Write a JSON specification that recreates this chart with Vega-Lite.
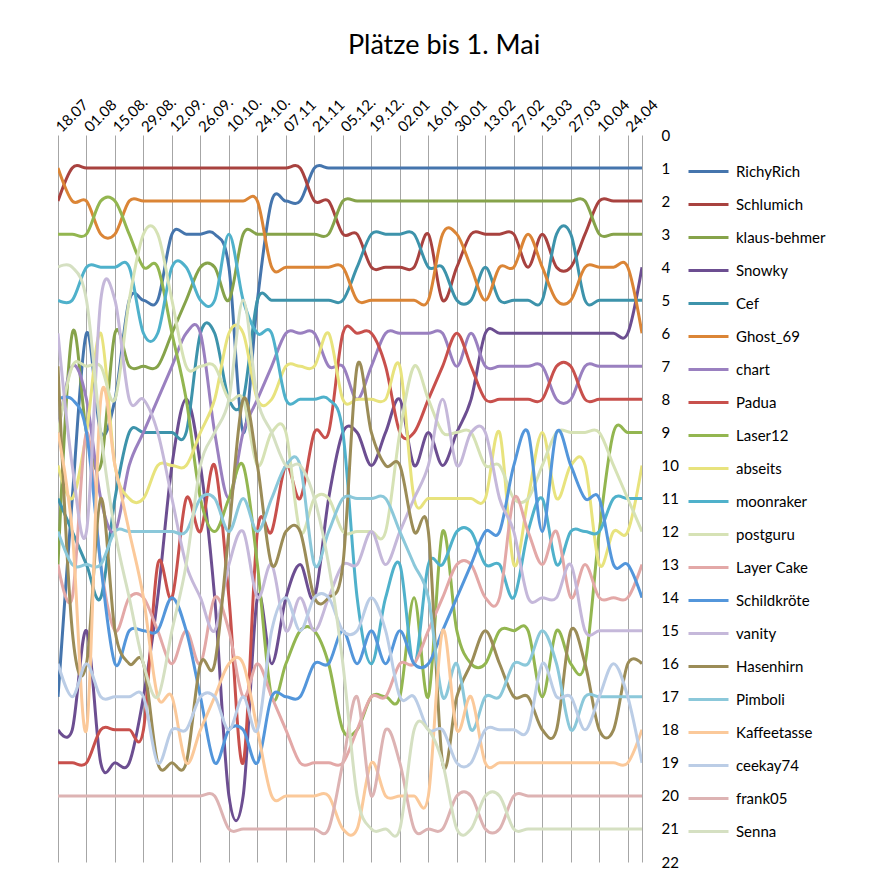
{
"$schema":"https://vega.github.io/schema/vega-lite/v6.json",
"width":584,"height":727,
"autosize":{"type":"none"},
"padding":{"left":58,"top":135,"right":244,"bottom":28},
"background":"white",
"title":{"text":"Plätze bis 1. Mai","font":"Lato","fontSize":27,"fontWeight":"normal","color":"#000000","anchor":"middle","dx":94,"offset":34},
"config":{"view":{"stroke":null}},
"data":{"values":[
{"n":"RichyRich","w":0,"r":17},{"n":"RichyRich","w":1,"r":11},{"n":"RichyRich","w":2,"r":6},{"n":"RichyRich","w":3,"r":9},{"n":"RichyRich","w":4,"r":8},{"n":"RichyRich","w":5,"r":5},{"n":"RichyRich","w":6,"r":5},{"n":"RichyRich","w":7,"r":5},{"n":"RichyRich","w":8,"r":3},{"n":"RichyRich","w":9,"r":3},{"n":"RichyRich","w":10,"r":3},{"n":"RichyRich","w":11,"r":3},{"n":"RichyRich","w":12,"r":4},{"n":"RichyRich","w":13,"r":9},{"n":"RichyRich","w":14,"r":5},{"n":"RichyRich","w":15,"r":2},{"n":"RichyRich","w":16,"r":2},{"n":"RichyRich","w":17,"r":2},{"n":"RichyRich","w":18,"r":1},{"n":"RichyRich","w":19,"r":1},{"n":"RichyRich","w":20,"r":1},{"n":"RichyRich","w":21,"r":1},{"n":"RichyRich","w":22,"r":1},{"n":"RichyRich","w":23,"r":1},{"n":"RichyRich","w":24,"r":1},{"n":"RichyRich","w":25,"r":1},{"n":"RichyRich","w":26,"r":1},{"n":"RichyRich","w":27,"r":1},{"n":"RichyRich","w":28,"r":1},{"n":"RichyRich","w":29,"r":1},{"n":"RichyRich","w":30,"r":1},{"n":"RichyRich","w":31,"r":1},{"n":"RichyRich","w":32,"r":1},{"n":"RichyRich","w":33,"r":1},{"n":"RichyRich","w":34,"r":1},{"n":"RichyRich","w":35,"r":1},{"n":"RichyRich","w":36,"r":1},{"n":"RichyRich","w":37,"r":1},{"n":"RichyRich","w":38,"r":1},{"n":"RichyRich","w":39,"r":1},{"n":"RichyRich","w":40,"r":1},{"n":"RichyRich","w":41,"r":1},
{"n":"Schlumich","w":0,"r":2},{"n":"Schlumich","w":1,"r":1},{"n":"Schlumich","w":2,"r":1},{"n":"Schlumich","w":3,"r":1},{"n":"Schlumich","w":4,"r":1},{"n":"Schlumich","w":5,"r":1},{"n":"Schlumich","w":6,"r":1},{"n":"Schlumich","w":7,"r":1},{"n":"Schlumich","w":8,"r":1},{"n":"Schlumich","w":9,"r":1},{"n":"Schlumich","w":10,"r":1},{"n":"Schlumich","w":11,"r":1},{"n":"Schlumich","w":12,"r":1},{"n":"Schlumich","w":13,"r":1},{"n":"Schlumich","w":14,"r":1},{"n":"Schlumich","w":15,"r":1},{"n":"Schlumich","w":16,"r":1},{"n":"Schlumich","w":17,"r":1},{"n":"Schlumich","w":18,"r":2},{"n":"Schlumich","w":19,"r":2},{"n":"Schlumich","w":20,"r":3},{"n":"Schlumich","w":21,"r":3},{"n":"Schlumich","w":22,"r":4},{"n":"Schlumich","w":23,"r":4},{"n":"Schlumich","w":24,"r":4},{"n":"Schlumich","w":25,"r":4},{"n":"Schlumich","w":26,"r":3},{"n":"Schlumich","w":27,"r":5},{"n":"Schlumich","w":28,"r":4},{"n":"Schlumich","w":29,"r":3},{"n":"Schlumich","w":30,"r":3},{"n":"Schlumich","w":31,"r":3},{"n":"Schlumich","w":32,"r":3},{"n":"Schlumich","w":33,"r":4},{"n":"Schlumich","w":34,"r":3},{"n":"Schlumich","w":35,"r":4},{"n":"Schlumich","w":36,"r":4},{"n":"Schlumich","w":37,"r":3},{"n":"Schlumich","w":38,"r":2},{"n":"Schlumich","w":39,"r":2},{"n":"Schlumich","w":40,"r":2},{"n":"Schlumich","w":41,"r":2},
{"n":"klaus-behmer","w":0,"r":13},{"n":"klaus-behmer","w":1,"r":6},{"n":"klaus-behmer","w":2,"r":9},{"n":"klaus-behmer","w":3,"r":10},{"n":"klaus-behmer","w":4,"r":6},{"n":"klaus-behmer","w":5,"r":7},{"n":"klaus-behmer","w":6,"r":7},{"n":"klaus-behmer","w":7,"r":7},{"n":"klaus-behmer","w":8,"r":6},{"n":"klaus-behmer","w":9,"r":5},{"n":"klaus-behmer","w":10,"r":4},{"n":"klaus-behmer","w":11,"r":4},{"n":"klaus-behmer","w":12,"r":5},{"n":"klaus-behmer","w":13,"r":3},{"n":"klaus-behmer","w":14,"r":3},{"n":"klaus-behmer","w":15,"r":3},{"n":"klaus-behmer","w":16,"r":3},{"n":"klaus-behmer","w":17,"r":3},{"n":"klaus-behmer","w":18,"r":3},{"n":"klaus-behmer","w":19,"r":3},{"n":"klaus-behmer","w":20,"r":2},{"n":"klaus-behmer","w":21,"r":2},{"n":"klaus-behmer","w":22,"r":2},{"n":"klaus-behmer","w":23,"r":2},{"n":"klaus-behmer","w":24,"r":2},{"n":"klaus-behmer","w":25,"r":2},{"n":"klaus-behmer","w":26,"r":2},{"n":"klaus-behmer","w":27,"r":2},{"n":"klaus-behmer","w":28,"r":2},{"n":"klaus-behmer","w":29,"r":2},{"n":"klaus-behmer","w":30,"r":2},{"n":"klaus-behmer","w":31,"r":2},{"n":"klaus-behmer","w":32,"r":2},{"n":"klaus-behmer","w":33,"r":2},{"n":"klaus-behmer","w":34,"r":2},{"n":"klaus-behmer","w":35,"r":2},{"n":"klaus-behmer","w":36,"r":2},{"n":"klaus-behmer","w":37,"r":2},{"n":"klaus-behmer","w":38,"r":3},{"n":"klaus-behmer","w":39,"r":3},{"n":"klaus-behmer","w":40,"r":3},{"n":"klaus-behmer","w":41,"r":3},
{"n":"Snowky","w":0,"r":18},{"n":"Snowky","w":1,"r":18},{"n":"Snowky","w":2,"r":15},{"n":"Snowky","w":3,"r":19},{"n":"Snowky","w":4,"r":19},{"n":"Snowky","w":5,"r":19},{"n":"Snowky","w":6,"r":17},{"n":"Snowky","w":7,"r":14},{"n":"Snowky","w":8,"r":10},{"n":"Snowky","w":9,"r":8},{"n":"Snowky","w":10,"r":10},{"n":"Snowky","w":11,"r":14},{"n":"Snowky","w":12,"r":20},{"n":"Snowky","w":13,"r":20},{"n":"Snowky","w":14,"r":14},{"n":"Snowky","w":15,"r":16},{"n":"Snowky","w":16,"r":14},{"n":"Snowky","w":17,"r":13},{"n":"Snowky","w":18,"r":14},{"n":"Snowky","w":19,"r":11},{"n":"Snowky","w":20,"r":9},{"n":"Snowky","w":21,"r":9},{"n":"Snowky","w":22,"r":10},{"n":"Snowky","w":23,"r":9},{"n":"Snowky","w":24,"r":8},{"n":"Snowky","w":25,"r":10},{"n":"Snowky","w":26,"r":9},{"n":"Snowky","w":27,"r":10},{"n":"Snowky","w":28,"r":9},{"n":"Snowky","w":29,"r":8},{"n":"Snowky","w":30,"r":6},{"n":"Snowky","w":31,"r":6},{"n":"Snowky","w":32,"r":6},{"n":"Snowky","w":33,"r":6},{"n":"Snowky","w":34,"r":6},{"n":"Snowky","w":35,"r":6},{"n":"Snowky","w":36,"r":6},{"n":"Snowky","w":37,"r":6},{"n":"Snowky","w":38,"r":6},{"n":"Snowky","w":39,"r":6},{"n":"Snowky","w":40,"r":6},{"n":"Snowky","w":41,"r":4},
{"n":"Cef","w":0,"r":11},{"n":"Cef","w":1,"r":12},{"n":"Cef","w":2,"r":13},{"n":"Cef","w":3,"r":14},{"n":"Cef","w":4,"r":11},{"n":"Cef","w":5,"r":9},{"n":"Cef","w":6,"r":9},{"n":"Cef","w":7,"r":9},{"n":"Cef","w":8,"r":9},{"n":"Cef","w":9,"r":9},{"n":"Cef","w":10,"r":6},{"n":"Cef","w":11,"r":6},{"n":"Cef","w":12,"r":8},{"n":"Cef","w":13,"r":8},{"n":"Cef","w":14,"r":5},{"n":"Cef","w":15,"r":5},{"n":"Cef","w":16,"r":5},{"n":"Cef","w":17,"r":5},{"n":"Cef","w":18,"r":5},{"n":"Cef","w":19,"r":5},{"n":"Cef","w":20,"r":5},{"n":"Cef","w":21,"r":4},{"n":"Cef","w":22,"r":3},{"n":"Cef","w":23,"r":3},{"n":"Cef","w":24,"r":3},{"n":"Cef","w":25,"r":3},{"n":"Cef","w":26,"r":4},{"n":"Cef","w":27,"r":4},{"n":"Cef","w":28,"r":5},{"n":"Cef","w":29,"r":5},{"n":"Cef","w":30,"r":4},{"n":"Cef","w":31,"r":5},{"n":"Cef","w":32,"r":5},{"n":"Cef","w":33,"r":5},{"n":"Cef","w":34,"r":5},{"n":"Cef","w":35,"r":3},{"n":"Cef","w":36,"r":3},{"n":"Cef","w":37,"r":5},{"n":"Cef","w":38,"r":5},{"n":"Cef","w":39,"r":5},{"n":"Cef","w":40,"r":5},{"n":"Cef","w":41,"r":5},
{"n":"Ghost_69","w":0,"r":1},{"n":"Ghost_69","w":1,"r":2},{"n":"Ghost_69","w":2,"r":2},{"n":"Ghost_69","w":3,"r":3},{"n":"Ghost_69","w":4,"r":3},{"n":"Ghost_69","w":5,"r":2},{"n":"Ghost_69","w":6,"r":2},{"n":"Ghost_69","w":7,"r":2},{"n":"Ghost_69","w":8,"r":2},{"n":"Ghost_69","w":9,"r":2},{"n":"Ghost_69","w":10,"r":2},{"n":"Ghost_69","w":11,"r":2},{"n":"Ghost_69","w":12,"r":2},{"n":"Ghost_69","w":13,"r":2},{"n":"Ghost_69","w":14,"r":2},{"n":"Ghost_69","w":15,"r":4},{"n":"Ghost_69","w":16,"r":4},{"n":"Ghost_69","w":17,"r":4},{"n":"Ghost_69","w":18,"r":4},{"n":"Ghost_69","w":19,"r":4},{"n":"Ghost_69","w":20,"r":4},{"n":"Ghost_69","w":21,"r":5},{"n":"Ghost_69","w":22,"r":5},{"n":"Ghost_69","w":23,"r":5},{"n":"Ghost_69","w":24,"r":5},{"n":"Ghost_69","w":25,"r":5},{"n":"Ghost_69","w":26,"r":5},{"n":"Ghost_69","w":27,"r":3},{"n":"Ghost_69","w":28,"r":3},{"n":"Ghost_69","w":29,"r":4},{"n":"Ghost_69","w":30,"r":5},{"n":"Ghost_69","w":31,"r":4},{"n":"Ghost_69","w":32,"r":4},{"n":"Ghost_69","w":33,"r":3},{"n":"Ghost_69","w":34,"r":4},{"n":"Ghost_69","w":35,"r":5},{"n":"Ghost_69","w":36,"r":5},{"n":"Ghost_69","w":37,"r":4},{"n":"Ghost_69","w":38,"r":4},{"n":"Ghost_69","w":39,"r":4},{"n":"Ghost_69","w":40,"r":4},{"n":"Ghost_69","w":41,"r":6},
{"n":"chart","w":0,"r":9},{"n":"chart","w":1,"r":7},{"n":"chart","w":2,"r":8},{"n":"chart","w":3,"r":11},{"n":"chart","w":4,"r":12},{"n":"chart","w":5,"r":10},{"n":"chart","w":6,"r":9},{"n":"chart","w":7,"r":8},{"n":"chart","w":8,"r":7},{"n":"chart","w":9,"r":6},{"n":"chart","w":10,"r":6},{"n":"chart","w":11,"r":9},{"n":"chart","w":12,"r":11},{"n":"chart","w":13,"r":9},{"n":"chart","w":14,"r":8},{"n":"chart","w":15,"r":7},{"n":"chart","w":16,"r":6},{"n":"chart","w":17,"r":6},{"n":"chart","w":18,"r":6},{"n":"chart","w":19,"r":7},{"n":"chart","w":20,"r":7},{"n":"chart","w":21,"r":8},{"n":"chart","w":22,"r":7},{"n":"chart","w":23,"r":6},{"n":"chart","w":24,"r":6},{"n":"chart","w":25,"r":6},{"n":"chart","w":26,"r":6},{"n":"chart","w":27,"r":6},{"n":"chart","w":28,"r":7},{"n":"chart","w":29,"r":6},{"n":"chart","w":30,"r":7},{"n":"chart","w":31,"r":7},{"n":"chart","w":32,"r":7},{"n":"chart","w":33,"r":7},{"n":"chart","w":34,"r":7},{"n":"chart","w":35,"r":8},{"n":"chart","w":36,"r":8},{"n":"chart","w":37,"r":7},{"n":"chart","w":38,"r":7},{"n":"chart","w":39,"r":7},{"n":"chart","w":40,"r":7},{"n":"chart","w":41,"r":7},
{"n":"Padua","w":0,"r":19},{"n":"Padua","w":1,"r":19},{"n":"Padua","w":2,"r":19},{"n":"Padua","w":3,"r":18},{"n":"Padua","w":4,"r":18},{"n":"Padua","w":5,"r":18},{"n":"Padua","w":6,"r":18},{"n":"Padua","w":7,"r":13},{"n":"Padua","w":8,"r":14},{"n":"Padua","w":9,"r":11},{"n":"Padua","w":10,"r":12},{"n":"Padua","w":11,"r":10},{"n":"Padua","w":12,"r":14},{"n":"Padua","w":13,"r":19},{"n":"Padua","w":14,"r":12},{"n":"Padua","w":15,"r":12},{"n":"Padua","w":16,"r":10},{"n":"Padua","w":17,"r":11},{"n":"Padua","w":18,"r":9},{"n":"Padua","w":19,"r":9},{"n":"Padua","w":20,"r":6},{"n":"Padua","w":21,"r":6},{"n":"Padua","w":22,"r":6},{"n":"Padua","w":23,"r":7},{"n":"Padua","w":24,"r":9},{"n":"Padua","w":25,"r":9},{"n":"Padua","w":26,"r":8},{"n":"Padua","w":27,"r":7},{"n":"Padua","w":28,"r":6},{"n":"Padua","w":29,"r":7},{"n":"Padua","w":30,"r":8},{"n":"Padua","w":31,"r":8},{"n":"Padua","w":32,"r":8},{"n":"Padua","w":33,"r":8},{"n":"Padua","w":34,"r":8},{"n":"Padua","w":35,"r":7},{"n":"Padua","w":36,"r":7},{"n":"Padua","w":37,"r":8},{"n":"Padua","w":38,"r":8},{"n":"Padua","w":39,"r":8},{"n":"Padua","w":40,"r":8},{"n":"Padua","w":41,"r":8},
{"n":"Laser12","w":0,"r":3},{"n":"Laser12","w":1,"r":3},{"n":"Laser12","w":2,"r":3},{"n":"Laser12","w":3,"r":2},{"n":"Laser12","w":4,"r":2},{"n":"Laser12","w":5,"r":3},{"n":"Laser12","w":6,"r":4},{"n":"Laser12","w":7,"r":4},{"n":"Laser12","w":8,"r":6},{"n":"Laser12","w":9,"r":8},{"n":"Laser12","w":10,"r":11},{"n":"Laser12","w":11,"r":12},{"n":"Laser12","w":12,"r":11},{"n":"Laser12","w":13,"r":10},{"n":"Laser12","w":14,"r":13},{"n":"Laser12","w":15,"r":17},{"n":"Laser12","w":16,"r":16},{"n":"Laser12","w":17,"r":15},{"n":"Laser12","w":18,"r":15},{"n":"Laser12","w":19,"r":16},{"n":"Laser12","w":20,"r":18},{"n":"Laser12","w":21,"r":18},{"n":"Laser12","w":22,"r":17},{"n":"Laser12","w":23,"r":17},{"n":"Laser12","w":24,"r":17},{"n":"Laser12","w":25,"r":14},{"n":"Laser12","w":26,"r":17},{"n":"Laser12","w":27,"r":12},{"n":"Laser12","w":28,"r":15},{"n":"Laser12","w":29,"r":16},{"n":"Laser12","w":30,"r":16},{"n":"Laser12","w":31,"r":15},{"n":"Laser12","w":32,"r":15},{"n":"Laser12","w":33,"r":15},{"n":"Laser12","w":34,"r":17},{"n":"Laser12","w":35,"r":15},{"n":"Laser12","w":36,"r":16},{"n":"Laser12","w":37,"r":16},{"n":"Laser12","w":38,"r":12},{"n":"Laser12","w":39,"r":9},{"n":"Laser12","w":40,"r":9},{"n":"Laser12","w":41,"r":9},
{"n":"abseits","w":0,"r":10},{"n":"abseits","w":1,"r":11},{"n":"abseits","w":2,"r":9},{"n":"abseits","w":3,"r":6},{"n":"abseits","w":4,"r":10},{"n":"abseits","w":5,"r":11},{"n":"abseits","w":6,"r":11},{"n":"abseits","w":7,"r":10},{"n":"abseits","w":8,"r":10},{"n":"abseits","w":9,"r":10},{"n":"abseits","w":10,"r":9},{"n":"abseits","w":11,"r":8},{"n":"abseits","w":12,"r":6},{"n":"abseits","w":13,"r":6},{"n":"abseits","w":14,"r":8},{"n":"abseits","w":15,"r":8},{"n":"abseits","w":16,"r":7},{"n":"abseits","w":17,"r":7},{"n":"abseits","w":18,"r":7},{"n":"abseits","w":19,"r":6},{"n":"abseits","w":20,"r":8},{"n":"abseits","w":21,"r":8},{"n":"abseits","w":22,"r":8},{"n":"abseits","w":23,"r":8},{"n":"abseits","w":24,"r":7},{"n":"abseits","w":25,"r":11},{"n":"abseits","w":26,"r":11},{"n":"abseits","w":27,"r":11},{"n":"abseits","w":28,"r":11},{"n":"abseits","w":29,"r":11},{"n":"abseits","w":30,"r":11},{"n":"abseits","w":31,"r":9},{"n":"abseits","w":32,"r":13},{"n":"abseits","w":33,"r":11},{"n":"abseits","w":34,"r":9},{"n":"abseits","w":35,"r":11},{"n":"abseits","w":36,"r":10},{"n":"abseits","w":37,"r":10},{"n":"abseits","w":38,"r":13},{"n":"abseits","w":39,"r":12},{"n":"abseits","w":40,"r":12},{"n":"abseits","w":41,"r":10},
{"n":"moonraker","w":0,"r":5},{"n":"moonraker","w":1,"r":5},{"n":"moonraker","w":2,"r":4},{"n":"moonraker","w":3,"r":4},{"n":"moonraker","w":4,"r":4},{"n":"moonraker","w":5,"r":4},{"n":"moonraker","w":6,"r":6},{"n":"moonraker","w":7,"r":6},{"n":"moonraker","w":8,"r":4},{"n":"moonraker","w":9,"r":4},{"n":"moonraker","w":10,"r":5},{"n":"moonraker","w":11,"r":5},{"n":"moonraker","w":12,"r":3},{"n":"moonraker","w":13,"r":5},{"n":"moonraker","w":14,"r":6},{"n":"moonraker","w":15,"r":6},{"n":"moonraker","w":16,"r":8},{"n":"moonraker","w":17,"r":8},{"n":"moonraker","w":18,"r":8},{"n":"moonraker","w":19,"r":8},{"n":"moonraker","w":20,"r":9},{"n":"moonraker","w":21,"r":14},{"n":"moonraker","w":22,"r":16},{"n":"moonraker","w":23,"r":14},{"n":"moonraker","w":24,"r":13},{"n":"moonraker","w":25,"r":16},{"n":"moonraker","w":26,"r":13},{"n":"moonraker","w":27,"r":13},{"n":"moonraker","w":28,"r":12},{"n":"moonraker","w":29,"r":12},{"n":"moonraker","w":30,"r":13},{"n":"moonraker","w":31,"r":13},{"n":"moonraker","w":32,"r":14},{"n":"moonraker","w":33,"r":12},{"n":"moonraker","w":34,"r":11},{"n":"moonraker","w":35,"r":13},{"n":"moonraker","w":36,"r":12},{"n":"moonraker","w":37,"r":12},{"n":"moonraker","w":38,"r":12},{"n":"moonraker","w":39,"r":11},{"n":"moonraker","w":40,"r":11},{"n":"moonraker","w":41,"r":11},
{"n":"postguru","w":0,"r":9},{"n":"postguru","w":1,"r":7},{"n":"postguru","w":2,"r":7},{"n":"postguru","w":3,"r":7},{"n":"postguru","w":4,"r":8},{"n":"postguru","w":5,"r":5},{"n":"postguru","w":6,"r":3},{"n":"postguru","w":7,"r":3},{"n":"postguru","w":8,"r":5},{"n":"postguru","w":9,"r":7},{"n":"postguru","w":10,"r":7},{"n":"postguru","w":11,"r":7},{"n":"postguru","w":12,"r":8},{"n":"postguru","w":13,"r":8},{"n":"postguru","w":14,"r":10},{"n":"postguru","w":15,"r":9},{"n":"postguru","w":16,"r":9},{"n":"postguru","w":17,"r":12},{"n":"postguru","w":18,"r":11},{"n":"postguru","w":19,"r":11},{"n":"postguru","w":20,"r":12},{"n":"postguru","w":21,"r":12},{"n":"postguru","w":22,"r":12},{"n":"postguru","w":23,"r":12},{"n":"postguru","w":24,"r":9},{"n":"postguru","w":25,"r":7},{"n":"postguru","w":26,"r":8},{"n":"postguru","w":27,"r":9},{"n":"postguru","w":28,"r":9},{"n":"postguru","w":29,"r":9},{"n":"postguru","w":30,"r":10},{"n":"postguru","w":31,"r":10},{"n":"postguru","w":32,"r":11},{"n":"postguru","w":33,"r":11},{"n":"postguru","w":34,"r":10},{"n":"postguru","w":35,"r":9},{"n":"postguru","w":36,"r":9},{"n":"postguru","w":37,"r":9},{"n":"postguru","w":38,"r":9},{"n":"postguru","w":39,"r":10},{"n":"postguru","w":40,"r":11},{"n":"postguru","w":41,"r":12},
{"n":"Layer Cake","w":0,"r":13},{"n":"Layer Cake","w":1,"r":14},{"n":"Layer Cake","w":2,"r":9},{"n":"Layer Cake","w":3,"r":13},{"n":"Layer Cake","w":4,"r":15},{"n":"Layer Cake","w":5,"r":14},{"n":"Layer Cake","w":6,"r":14},{"n":"Layer Cake","w":7,"r":15},{"n":"Layer Cake","w":8,"r":16},{"n":"Layer Cake","w":9,"r":15},{"n":"Layer Cake","w":10,"r":16},{"n":"Layer Cake","w":11,"r":14},{"n":"Layer Cake","w":12,"r":15},{"n":"Layer Cake","w":13,"r":17},{"n":"Layer Cake","w":14,"r":16},{"n":"Layer Cake","w":15,"r":17},{"n":"Layer Cake","w":16,"r":18},{"n":"Layer Cake","w":17,"r":19},{"n":"Layer Cake","w":18,"r":19},{"n":"Layer Cake","w":19,"r":19},{"n":"Layer Cake","w":20,"r":19},{"n":"Layer Cake","w":21,"r":18},{"n":"Layer Cake","w":22,"r":17},{"n":"Layer Cake","w":23,"r":17},{"n":"Layer Cake","w":24,"r":16},{"n":"Layer Cake","w":25,"r":16},{"n":"Layer Cake","w":26,"r":15},{"n":"Layer Cake","w":27,"r":14},{"n":"Layer Cake","w":28,"r":13},{"n":"Layer Cake","w":29,"r":13},{"n":"Layer Cake","w":30,"r":14},{"n":"Layer Cake","w":31,"r":14},{"n":"Layer Cake","w":32,"r":11},{"n":"Layer Cake","w":33,"r":12},{"n":"Layer Cake","w":34,"r":13},{"n":"Layer Cake","w":35,"r":12},{"n":"Layer Cake","w":36,"r":14},{"n":"Layer Cake","w":37,"r":13},{"n":"Layer Cake","w":38,"r":14},{"n":"Layer Cake","w":39,"r":14},{"n":"Layer Cake","w":40,"r":14},{"n":"Layer Cake","w":41,"r":13},
{"n":"Schildkröte","w":0,"r":8},{"n":"Schildkröte","w":1,"r":8},{"n":"Schildkröte","w":2,"r":9},{"n":"Schildkröte","w":3,"r":13},{"n":"Schildkröte","w":4,"r":16},{"n":"Schildkröte","w":5,"r":15},{"n":"Schildkröte","w":6,"r":15},{"n":"Schildkröte","w":7,"r":15},{"n":"Schildkröte","w":8,"r":14},{"n":"Schildkröte","w":9,"r":15},{"n":"Schildkröte","w":10,"r":17},{"n":"Schildkröte","w":11,"r":19},{"n":"Schildkröte","w":12,"r":18},{"n":"Schildkröte","w":13,"r":18},{"n":"Schildkröte","w":14,"r":19},{"n":"Schildkröte","w":15,"r":17},{"n":"Schildkröte","w":16,"r":17},{"n":"Schildkröte","w":17,"r":17},{"n":"Schildkröte","w":18,"r":16},{"n":"Schildkröte","w":19,"r":16},{"n":"Schildkröte","w":20,"r":15},{"n":"Schildkröte","w":21,"r":16},{"n":"Schildkröte","w":22,"r":15},{"n":"Schildkröte","w":23,"r":16},{"n":"Schildkröte","w":24,"r":15},{"n":"Schildkröte","w":25,"r":16},{"n":"Schildkröte","w":26,"r":16},{"n":"Schildkröte","w":27,"r":15},{"n":"Schildkröte","w":28,"r":14},{"n":"Schildkröte","w":29,"r":13},{"n":"Schildkröte","w":30,"r":12},{"n":"Schildkröte","w":31,"r":12},{"n":"Schildkröte","w":32,"r":10},{"n":"Schildkröte","w":33,"r":9},{"n":"Schildkröte","w":34,"r":12},{"n":"Schildkröte","w":35,"r":9},{"n":"Schildkröte","w":36,"r":10},{"n":"Schildkröte","w":37,"r":11},{"n":"Schildkröte","w":38,"r":11},{"n":"Schildkröte","w":39,"r":13},{"n":"Schildkröte","w":40,"r":13},{"n":"Schildkröte","w":41,"r":14},
{"n":"vanity","w":0,"r":6},{"n":"vanity","w":1,"r":10},{"n":"vanity","w":2,"r":12},{"n":"vanity","w":3,"r":5},{"n":"vanity","w":4,"r":5},{"n":"vanity","w":5,"r":8},{"n":"vanity","w":6,"r":8},{"n":"vanity","w":7,"r":9},{"n":"vanity","w":8,"r":11},{"n":"vanity","w":9,"r":13},{"n":"vanity","w":10,"r":14},{"n":"vanity","w":11,"r":15},{"n":"vanity","w":12,"r":13},{"n":"vanity","w":13,"r":12},{"n":"vanity","w":14,"r":14},{"n":"vanity","w":15,"r":13},{"n":"vanity","w":16,"r":15},{"n":"vanity","w":17,"r":14},{"n":"vanity","w":18,"r":15},{"n":"vanity","w":19,"r":14},{"n":"vanity","w":20,"r":13},{"n":"vanity","w":21,"r":13},{"n":"vanity","w":22,"r":12},{"n":"vanity","w":23,"r":13},{"n":"vanity","w":24,"r":12},{"n":"vanity","w":25,"r":11},{"n":"vanity","w":26,"r":10},{"n":"vanity","w":27,"r":8},{"n":"vanity","w":28,"r":10},{"n":"vanity","w":29,"r":9},{"n":"vanity","w":30,"r":9},{"n":"vanity","w":31,"r":11},{"n":"vanity","w":32,"r":12},{"n":"vanity","w":33,"r":14},{"n":"vanity","w":34,"r":14},{"n":"vanity","w":35,"r":14},{"n":"vanity","w":36,"r":13},{"n":"vanity","w":37,"r":15},{"n":"vanity","w":38,"r":15},{"n":"vanity","w":39,"r":15},{"n":"vanity","w":40,"r":15},{"n":"vanity","w":41,"r":15},
{"n":"Hasenhirn","w":0,"r":7},{"n":"Hasenhirn","w":1,"r":15},{"n":"Hasenhirn","w":2,"r":16},{"n":"Hasenhirn","w":3,"r":11},{"n":"Hasenhirn","w":4,"r":15},{"n":"Hasenhirn","w":5,"r":16},{"n":"Hasenhirn","w":6,"r":16},{"n":"Hasenhirn","w":7,"r":19},{"n":"Hasenhirn","w":8,"r":19},{"n":"Hasenhirn","w":9,"r":19},{"n":"Hasenhirn","w":10,"r":16},{"n":"Hasenhirn","w":11,"r":16},{"n":"Hasenhirn","w":12,"r":12},{"n":"Hasenhirn","w":13,"r":8},{"n":"Hasenhirn","w":14,"r":10},{"n":"Hasenhirn","w":15,"r":13},{"n":"Hasenhirn","w":16,"r":12},{"n":"Hasenhirn","w":17,"r":12},{"n":"Hasenhirn","w":18,"r":14},{"n":"Hasenhirn","w":19,"r":14},{"n":"Hasenhirn","w":20,"r":13},{"n":"Hasenhirn","w":21,"r":7},{"n":"Hasenhirn","w":22,"r":9},{"n":"Hasenhirn","w":23,"r":10},{"n":"Hasenhirn","w":24,"r":10},{"n":"Hasenhirn","w":25,"r":12},{"n":"Hasenhirn","w":26,"r":12},{"n":"Hasenhirn","w":27,"r":19},{"n":"Hasenhirn","w":28,"r":17},{"n":"Hasenhirn","w":29,"r":16},{"n":"Hasenhirn","w":30,"r":15},{"n":"Hasenhirn","w":31,"r":16},{"n":"Hasenhirn","w":32,"r":17},{"n":"Hasenhirn","w":33,"r":17},{"n":"Hasenhirn","w":34,"r":18},{"n":"Hasenhirn","w":35,"r":18},{"n":"Hasenhirn","w":36,"r":15},{"n":"Hasenhirn","w":37,"r":16},{"n":"Hasenhirn","w":38,"r":18},{"n":"Hasenhirn","w":39,"r":18},{"n":"Hasenhirn","w":40,"r":16},{"n":"Hasenhirn","w":41,"r":16},
{"n":"Pimboli","w":0,"r":12},{"n":"Pimboli","w":1,"r":13},{"n":"Pimboli","w":2,"r":13},{"n":"Pimboli","w":3,"r":13},{"n":"Pimboli","w":4,"r":12},{"n":"Pimboli","w":5,"r":12},{"n":"Pimboli","w":6,"r":12},{"n":"Pimboli","w":7,"r":12},{"n":"Pimboli","w":8,"r":12},{"n":"Pimboli","w":9,"r":12},{"n":"Pimboli","w":10,"r":11},{"n":"Pimboli","w":11,"r":11},{"n":"Pimboli","w":12,"r":12},{"n":"Pimboli","w":13,"r":11},{"n":"Pimboli","w":14,"r":12},{"n":"Pimboli","w":15,"r":11},{"n":"Pimboli","w":16,"r":10},{"n":"Pimboli","w":17,"r":10},{"n":"Pimboli","w":18,"r":13},{"n":"Pimboli","w":19,"r":12},{"n":"Pimboli","w":20,"r":11},{"n":"Pimboli","w":21,"r":11},{"n":"Pimboli","w":22,"r":11},{"n":"Pimboli","w":23,"r":11},{"n":"Pimboli","w":24,"r":12},{"n":"Pimboli","w":25,"r":13},{"n":"Pimboli","w":26,"r":14},{"n":"Pimboli","w":27,"r":17},{"n":"Pimboli","w":28,"r":16},{"n":"Pimboli","w":29,"r":18},{"n":"Pimboli","w":30,"r":17},{"n":"Pimboli","w":31,"r":17},{"n":"Pimboli","w":32,"r":16},{"n":"Pimboli","w":33,"r":16},{"n":"Pimboli","w":34,"r":15},{"n":"Pimboli","w":35,"r":16},{"n":"Pimboli","w":36,"r":18},{"n":"Pimboli","w":37,"r":17},{"n":"Pimboli","w":38,"r":17},{"n":"Pimboli","w":39,"r":17},{"n":"Pimboli","w":40,"r":17},{"n":"Pimboli","w":41,"r":17},
{"n":"Kaffeetasse","w":0,"r":9},{"n":"Kaffeetasse","w":1,"r":12},{"n":"Kaffeetasse","w":2,"r":18},{"n":"Kaffeetasse","w":3,"r":8},{"n":"Kaffeetasse","w":4,"r":10},{"n":"Kaffeetasse","w":5,"r":12},{"n":"Kaffeetasse","w":6,"r":14},{"n":"Kaffeetasse","w":7,"r":17},{"n":"Kaffeetasse","w":8,"r":17},{"n":"Kaffeetasse","w":9,"r":19},{"n":"Kaffeetasse","w":10,"r":18},{"n":"Kaffeetasse","w":11,"r":17},{"n":"Kaffeetasse","w":12,"r":16},{"n":"Kaffeetasse","w":13,"r":16},{"n":"Kaffeetasse","w":14,"r":18},{"n":"Kaffeetasse","w":15,"r":20},{"n":"Kaffeetasse","w":16,"r":20},{"n":"Kaffeetasse","w":17,"r":20},{"n":"Kaffeetasse","w":18,"r":20},{"n":"Kaffeetasse","w":19,"r":20},{"n":"Kaffeetasse","w":20,"r":21},{"n":"Kaffeetasse","w":21,"r":21},{"n":"Kaffeetasse","w":22,"r":19},{"n":"Kaffeetasse","w":23,"r":20},{"n":"Kaffeetasse","w":24,"r":20},{"n":"Kaffeetasse","w":25,"r":20},{"n":"Kaffeetasse","w":26,"r":20},{"n":"Kaffeetasse","w":27,"r":15},{"n":"Kaffeetasse","w":28,"r":18},{"n":"Kaffeetasse","w":29,"r":17},{"n":"Kaffeetasse","w":30,"r":19},{"n":"Kaffeetasse","w":31,"r":19},{"n":"Kaffeetasse","w":32,"r":19},{"n":"Kaffeetasse","w":33,"r":19},{"n":"Kaffeetasse","w":34,"r":19},{"n":"Kaffeetasse","w":35,"r":19},{"n":"Kaffeetasse","w":36,"r":19},{"n":"Kaffeetasse","w":37,"r":19},{"n":"Kaffeetasse","w":38,"r":19},{"n":"Kaffeetasse","w":39,"r":19},{"n":"Kaffeetasse","w":40,"r":19},{"n":"Kaffeetasse","w":41,"r":18},
{"n":"ceekay74","w":0,"r":16},{"n":"ceekay74","w":1,"r":17},{"n":"ceekay74","w":2,"r":16},{"n":"ceekay74","w":3,"r":17},{"n":"ceekay74","w":4,"r":17},{"n":"ceekay74","w":5,"r":17},{"n":"ceekay74","w":6,"r":17},{"n":"ceekay74","w":7,"r":19},{"n":"ceekay74","w":8,"r":18},{"n":"ceekay74","w":9,"r":18},{"n":"ceekay74","w":10,"r":17},{"n":"ceekay74","w":11,"r":17},{"n":"ceekay74","w":12,"r":18},{"n":"ceekay74","w":13,"r":17},{"n":"ceekay74","w":14,"r":18},{"n":"ceekay74","w":15,"r":15},{"n":"ceekay74","w":16,"r":14},{"n":"ceekay74","w":17,"r":15},{"n":"ceekay74","w":18,"r":14},{"n":"ceekay74","w":19,"r":14},{"n":"ceekay74","w":20,"r":15},{"n":"ceekay74","w":21,"r":15},{"n":"ceekay74","w":22,"r":14},{"n":"ceekay74","w":23,"r":15},{"n":"ceekay74","w":24,"r":17},{"n":"ceekay74","w":25,"r":17},{"n":"ceekay74","w":26,"r":18},{"n":"ceekay74","w":27,"r":18},{"n":"ceekay74","w":28,"r":19},{"n":"ceekay74","w":29,"r":19},{"n":"ceekay74","w":30,"r":18},{"n":"ceekay74","w":31,"r":18},{"n":"ceekay74","w":32,"r":18},{"n":"ceekay74","w":33,"r":18},{"n":"ceekay74","w":34,"r":16},{"n":"ceekay74","w":35,"r":17},{"n":"ceekay74","w":36,"r":17},{"n":"ceekay74","w":37,"r":18},{"n":"ceekay74","w":38,"r":17},{"n":"ceekay74","w":39,"r":16},{"n":"ceekay74","w":40,"r":17},{"n":"ceekay74","w":41,"r":19},
{"n":"frank05","w":0,"r":20},{"n":"frank05","w":1,"r":20},{"n":"frank05","w":2,"r":20},{"n":"frank05","w":3,"r":20},{"n":"frank05","w":4,"r":20},{"n":"frank05","w":5,"r":20},{"n":"frank05","w":6,"r":20},{"n":"frank05","w":7,"r":20},{"n":"frank05","w":8,"r":20},{"n":"frank05","w":9,"r":20},{"n":"frank05","w":10,"r":20},{"n":"frank05","w":11,"r":20},{"n":"frank05","w":12,"r":21},{"n":"frank05","w":13,"r":21},{"n":"frank05","w":14,"r":21},{"n":"frank05","w":15,"r":21},{"n":"frank05","w":16,"r":21},{"n":"frank05","w":17,"r":21},{"n":"frank05","w":18,"r":21},{"n":"frank05","w":19,"r":21},{"n":"frank05","w":20,"r":19},{"n":"frank05","w":21,"r":17},{"n":"frank05","w":22,"r":20},{"n":"frank05","w":23,"r":18},{"n":"frank05","w":24,"r":19},{"n":"frank05","w":25,"r":21},{"n":"frank05","w":26,"r":21},{"n":"frank05","w":27,"r":21},{"n":"frank05","w":28,"r":20},{"n":"frank05","w":29,"r":20},{"n":"frank05","w":30,"r":21},{"n":"frank05","w":31,"r":21},{"n":"frank05","w":32,"r":20},{"n":"frank05","w":33,"r":20},{"n":"frank05","w":34,"r":20},{"n":"frank05","w":35,"r":20},{"n":"frank05","w":36,"r":20},{"n":"frank05","w":37,"r":20},{"n":"frank05","w":38,"r":20},{"n":"frank05","w":39,"r":20},{"n":"frank05","w":40,"r":20},{"n":"frank05","w":41,"r":20},
{"n":"Senna","w":0,"r":4},{"n":"Senna","w":1,"r":4},{"n":"Senna","w":2,"r":5},{"n":"Senna","w":3,"r":9},{"n":"Senna","w":4,"r":12},{"n":"Senna","w":5,"r":14},{"n":"Senna","w":6,"r":16},{"n":"Senna","w":7,"r":17},{"n":"Senna","w":8,"r":15},{"n":"Senna","w":9,"r":13},{"n":"Senna","w":10,"r":10},{"n":"Senna","w":11,"r":9},{"n":"Senna","w":12,"r":8},{"n":"Senna","w":13,"r":5},{"n":"Senna","w":14,"r":8},{"n":"Senna","w":15,"r":9},{"n":"Senna","w":16,"r":10},{"n":"Senna","w":17,"r":10},{"n":"Senna","w":18,"r":11},{"n":"Senna","w":19,"r":13},{"n":"Senna","w":20,"r":16},{"n":"Senna","w":21,"r":20},{"n":"Senna","w":22,"r":21},{"n":"Senna","w":23,"r":21},{"n":"Senna","w":24,"r":21},{"n":"Senna","w":25,"r":18},{"n":"Senna","w":26,"r":18},{"n":"Senna","w":27,"r":19},{"n":"Senna","w":28,"r":21},{"n":"Senna","w":29,"r":21},{"n":"Senna","w":30,"r":20},{"n":"Senna","w":31,"r":20},{"n":"Senna","w":32,"r":21},{"n":"Senna","w":33,"r":21},{"n":"Senna","w":34,"r":21},{"n":"Senna","w":35,"r":21},{"n":"Senna","w":36,"r":21},{"n":"Senna","w":37,"r":21},{"n":"Senna","w":38,"r":21},{"n":"Senna","w":39,"r":21},{"n":"Senna","w":40,"r":21},{"n":"Senna","w":41,"r":21}
]},
"mark":{"type":"line","interpolate":"cardinal","tension":0,"strokeWidth":3,"clip":true},
"encoding":{
"x":{"field":"w","type":"quantitative","scale":{"domain":[0,41],"nice":false,"zero":false},
"axis":{"orient":"top","title":null,"values":[0,2,4,6,8,10,12,14,16,18,20,22,24,26,28,30,32,34,36,38,40],
"labelExpr":"['18.07','01.08','15.08.','29.08.','12.09.','26.09.','10.10.','24.10.','07.11','21.11','05.12.','19.12.','02.01','16.01','30.01','13.02','27.02','13.03','27.03','10.04','24.04'][datum.value/2]",
"labelAngle":-45,"labelAlign":"left","labelBaseline":"middle","labelPadding":6,"labelFont":"Lato","labelFontSize":15,"labelColor":"#000000","labelOverlap":false,
"grid":true,"gridColor":"#a6a6a6","gridWidth":1,"domain":false,"ticks":false}},
"y":{"field":"r","type":"quantitative","scale":{"domain":[0,22],"reverse":true,"nice":false,"zero":false},
"axis":{"orient":"right","title":null,"values":[0,1,2,3,4,5,6,7,8,9,10,11,12,13,14,15,16,17,18,19,20,21,22],"labelAlign":"left","labelPadding":19,"labelFont":"Lato","labelFontSize":15,"labelColor":"#000000","labelOverlap":false,"grid":false,"ticks":false,"domain":true,"domainColor":"#a6a6a6","domainWidth":1}},
"color":{"field":"n","type":"nominal","sort":null,
"scale":{"domain":["RichyRich","Schlumich","klaus-behmer","Snowky","Cef","Ghost_69","chart","Padua","Laser12","abseits","moonraker","postguru","Layer Cake","Schildkröte","vanity","Hasenhirn","Pimboli","Kaffeetasse","ceekay74","frank05","Senna"],
"range":["#4575ad","#a8423f","#86a34a","#6c4e91","#3d93ab","#db8536","#9a80c0","#c8504c","#93b650","#e8e37d","#4fb1cb","#d6e2b5","#e3a8a7","#5396db","#c5b8da","#9b8c57","#8bc8da","#fbc99a","#bbcde6","#ddb3b3","#d5e0c2"]},
"legend":{"orient":"none","legendX":629,"legendY":20,"title":null,"symbolType":"stroke","symbolSize":1600,"symbolStrokeWidth":3,"labelFont":"Lato","labelFontSize":15,"labelColor":"#000000","clipHeight":33,"rowPadding":0,"labelOffset":6,"padding":0,"labelLimit":200}}
}
}
